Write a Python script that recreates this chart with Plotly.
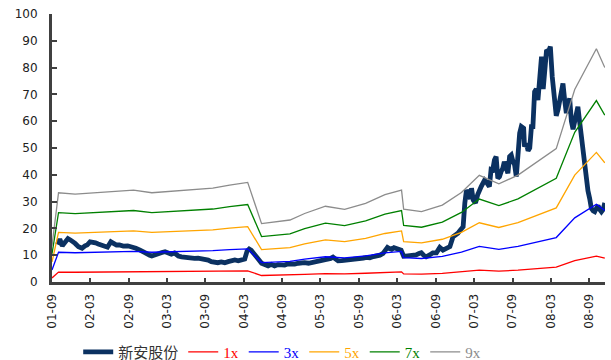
import plotly.graph_objects as go

# Stock price (新安股份)
price_dates = [
    "2001-09-27", "2001-10-08", "2001-10-20", "2001-11-03", "2001-11-16", "2001-11-27", "2001-12-09", "2001-12-20",
    "2002-01-05", "2002-01-22", "2002-02-05", "2002-02-15", "2002-03-01", "2002-03-16", "2002-03-27", "2002-04-09",
    "2002-04-25", "2002-05-10", "2002-05-23", "2002-06-08", "2002-06-21", "2002-07-05", "2002-07-19", "2002-08-06",
    "2002-08-27", "2002-09-16", "2002-10-05", "2002-10-25", "2002-11-12", "2002-11-26", "2002-12-10", "2002-12-20",
    "2003-01-03", "2003-01-21", "2003-02-06", "2003-02-21", "2003-03-07", "2003-03-23", "2003-04-07", "2003-04-25",
    "2003-05-10", "2003-05-26", "2003-06-10", "2003-06-27", "2003-07-11", "2003-07-28", "2003-08-14", "2003-08-28",
    "2003-09-14", "2003-09-29", "2003-10-15", "2003-10-30", "2003-11-15", "2003-12-02", "2003-12-18", "2004-01-03",
    "2004-01-19", "2004-02-04", "2004-02-19", "2004-03-06", "2004-03-17", "2004-03-27", "2004-04-06", "2004-04-18",
    "2004-04-29", "2004-05-11", "2004-05-25", "2004-06-09", "2004-06-25", "2004-07-10", "2004-07-26", "2004-08-12",
    "2004-08-29", "2004-09-12", "2004-09-29", "2004-10-16", "2004-10-30", "2004-11-16", "2004-12-02", "2004-12-16",
    "2005-01-03", "2005-01-20", "2005-02-03", "2005-02-20", "2005-03-04", "2005-03-21", "2005-04-07", "2005-04-19",
    "2005-04-30", "2005-05-12", "2005-05-24", "2005-06-10", "2005-07-02", "2005-07-18", "2005-08-04", "2005-08-19",
    "2005-09-05", "2005-09-21", "2005-10-06", "2005-10-22", "2005-11-08", "2005-11-23", "2005-12-09", "2005-12-24",
    "2006-01-04", "2006-01-14", "2006-01-23", "2006-02-03", "2006-02-14", "2006-02-27", "2006-03-10", "2006-03-20",
    "2006-04-01", "2006-04-15", "2006-04-29", "2006-05-15", "2006-05-30", "2006-06-13", "2006-06-24", "2006-07-05",
    "2006-07-17", "2006-08-03", "2006-08-18", "2006-09-04", "2006-09-20", "2006-10-05", "2006-10-20", "2006-11-07",
    "2006-11-22", "2006-12-05", "2006-12-15", "2006-12-28", "2007-01-09", "2007-01-17", "2007-01-25", "2007-02-02",
    "2007-02-12", "2007-02-18", "2007-02-26", "2007-03-09", "2007-03-19", "2007-04-05", "2007-04-21", "2007-05-02",
    "2007-05-14", "2007-05-22", "2007-05-30", "2007-06-07", "2007-06-15", "2007-06-23", "2007-07-01", "2007-07-09",
    "2007-07-17", "2007-07-24", "2007-08-02", "2007-08-10", "2007-08-18", "2007-08-26", "2007-09-03", "2007-09-11",
    "2007-09-19", "2007-09-27", "2007-10-05", "2007-10-13", "2007-10-24", "2007-10-28", "2007-11-06", "2007-11-14",
    "2007-11-22", "2007-11-30", "2007-12-07", "2007-12-15", "2007-12-23", "2007-12-31", "2008-01-09", "2008-01-17",
    "2008-01-25", "2008-02-02", "2008-02-10", "2008-02-19", "2008-02-28", "2008-03-08", "2008-03-19", "2008-03-27",
    "2008-04-05", "2008-04-12", "2008-04-20", "2008-04-28", "2008-05-06", "2008-05-14", "2008-05-21", "2008-05-30",
    "2008-06-07", "2008-06-15", "2008-06-23", "2008-06-30", "2008-07-08", "2008-07-16", "2008-07-24", "2008-08-01",
    "2008-08-09", "2008-08-17", "2008-08-25", "2008-09-02", "2008-09-10", "2008-09-19", "2008-09-26", "2008-10-04",
    "2008-10-12", "2008-10-20", "2008-10-28", "2008-11-05", "2008-11-13",
]
price_values = [
    14.0, 16.0, 13.5, 15.0, 16.2, 15.7, 15.2, 14.4,
    13.2, 12.6, 13.5, 13.8, 15.0, 15.0, 14.6, 14.2,
    13.6, 13.2, 13.0, 15.0, 14.4, 13.8, 13.8, 13.4,
    13.5, 13.2, 12.6, 11.9, 11.0, 10.7, 10.0, 9.7,
    10.2, 10.7, 11.0, 11.3, 10.8, 10.4, 10.8, 9.7,
    9.4, 9.2, 9.0, 9.2, 8.8, 8.9, 8.7, 8.5,
    8.2, 7.6, 7.3, 7.2, 7.5, 7.2, 7.6, 7.9,
    8.2, 7.9, 8.4, 8.6, 11.5, 12.3, 11.8, 10.8,
    9.6, 8.4, 7.0, 6.4, 6.0, 6.6, 6.0, 6.5,
    6.2, 6.3, 6.8, 6.5, 6.7, 7.0, 7.3, 7.2,
    7.0, 7.3, 7.2, 7.5, 7.9, 8.1, 8.5, 8.8,
    9.3, 8.6, 7.9, 8.0, 8.2, 8.0, 8.3, 8.5,
    8.6, 8.9, 9.2, 9.0, 9.5, 9.7, 10.0, 10.7,
    12.0, 12.9, 12.5, 12.2, 12.8, 12.6, 12.4, 11.9,
    9.6, 9.7, 9.7, 10.2, 10.1, 10.6, 10.9, 10.0,
    9.4, 10.1, 10.9, 10.9, 12.9, 11.9, 12.5, 13.2,
    16.9, 17.5, 18.2, 19.5, 20.6, 29.4, 34.3, 33.1,
    31.0, 35.0, 30.6, 29.5, 32.5, 35.6, 38.0, 37.0,
    35.6, 42.0, 41.8, 45.5, 46.8, 38.7, 39.3, 41.2,
    42.5, 44.9, 43.0, 40.6, 46.8, 47.4, 45.0, 43.7,
    39.3, 50.0, 55.5, 58.0, 57.4, 50.5, 51.8, 49.0,
    50.0, 58.0, 58.0, 71.0, 72.0, 67.9, 78.0, 84.1,
    72.0, 80.0, 86.6, 86.0, 87.8, 76.6, 67.9, 62.0,
    64.5, 67.9, 70.0, 74.1, 68.0, 63.0, 66.0, 68.5,
    60.0, 57.0, 60.0, 64.0, 65.4, 60.0, 54.0, 49.0,
    44.0, 37.0, 34.0, 31.2, 27.5, 26.5, 26.2, 27.5,
    28.5, 27.0, 26.2, 27.0, 29.5,
]

# Earnings per share used for the PE bands
eps_dates = [
    "2001-09-01", "2001-10-02", "2001-12-20", "2002-09-24", "2002-12-20", "2003-06-27", "2003-10-06",
    "2003-12-25", "2004-03-20", "2004-05-25", "2004-10-07", "2004-12-16", "2005-03-25", "2005-06-24",
    "2005-10-02", "2006-01-02", "2006-03-22", "2006-04-01", "2006-06-25", "2006-10-02", "2007-01-01",
    "2007-03-27", "2007-06-28", "2007-09-27", "2008-03-27", "2008-06-23", "2008-10-04", "2008-11-13",
]
eps_values = [
    1.50, 3.70, 3.64, 3.81, 3.70, 3.81, 3.89,
    4.02, 4.13, 2.42, 2.57, 2.84, 3.14, 3.01,
    3.26, 3.62, 3.81, 3.02, 2.92, 3.19, 3.71,
    4.42, 4.07, 4.43, 5.53, 7.98, 9.67, 8.89,
]

multiples = [1, 3, 5, 7, 9]
band_colors = ["#FF0000", "#0000FF", "#FFA500", "#008000", "#8C8C8C"]

fig = go.Figure()
fig.add_trace(go.Scatter(
    x=price_dates, y=price_values, mode="lines",
    name='<span style="color:#333333">新安股份</span>',
    line=dict(color="#0B3161", width=4.8), legendrank=1,
))
for i, (m, c) in enumerate(zip(multiples, band_colors)):
    fig.add_trace(go.Scatter(
        x=eps_dates, y=[m * e for e in eps_values], mode="lines",
        name=f'<span style="color:{c}">{m}x</span>',
        line=dict(color=c, width=1.3), legendrank=2 + i,
    ))

axis_font = dict(family="DejaVu Sans", size=12, color="#222222")
fig.update_layout(
    width=611, height=360,
    margin=dict(l=52, r=6, t=14, b=78, autoexpand=False),
    paper_bgcolor="white", plot_bgcolor="white",
    showlegend=True,
    legend=dict(
        orientation="h", xref="container", yref="container",
        x=0.128, xanchor="left", y=0.022, yanchor="middle",
        font=dict(family="Liberation Serif, Noto Sans CJK SC", size=15, color="#333333"),
        bgcolor="rgba(0,0,0,0)", itemwidth=30,
    ),
    xaxis=dict(
        type="date", range=["2001-09-01", "2008-11-14"], automargin=False,
        tick0="2001-09-01", dtick="M6", tickformat="%y-%m", tickangle=-90,
        showgrid=False, zeroline=False,
        showline=True, linecolor="#404040", linewidth=3,
        ticks="inside", ticklen=4, tickwidth=2, tickcolor="#404040",
        tickfont=axis_font, ticklabelstandoff=4,
    ),
    yaxis=dict(
        range=[0, 100], dtick=10, automargin=False,
        showgrid=False, zeroline=False,
        showline=True, linecolor="#404040", linewidth=3,
        ticks="inside", ticklen=5, tickwidth=2, tickcolor="#404040",
        tickfont=axis_font, ticklabelstandoff=9,
    ),
)

fig.write_html(
    "out.html",
    config={"displayModeBar": False},
    post_script="document.body.style.margin='0';document.body.style.overflow='hidden';",
)
